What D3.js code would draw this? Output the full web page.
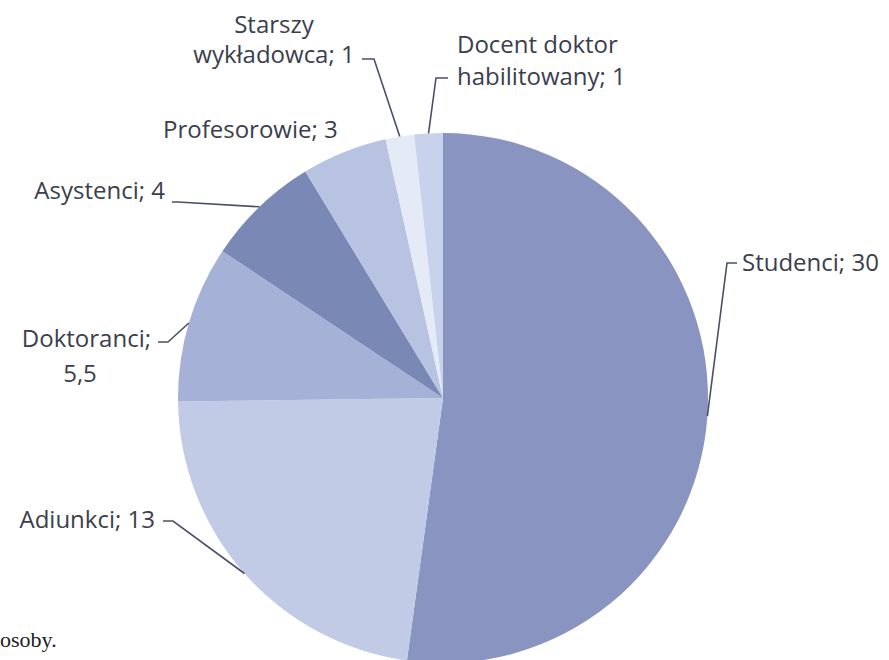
<!DOCTYPE html>
<html>
<head>
<meta charset="utf-8">
<script src="https://cdn.jsdelivr.net/npm/d3@7"></script>
<style>
  html, body { margin: 0; padding: 0; background: #fff; }
  svg { display: block; }
</style>
</head>
<body>
<svg id="chart"></svg>
<script>
// Data
var categories = ["Studenci", "Adiunkci", "Doktoranci", "Asystenci", "Profesorowie", "Starszy wykładowca", "Docent doktor habilitowany"];
var values = [30, 13, 5.5, 4, 3, 1, 1];
var valueLabels = ["30", "13", "5,5", "4", "3", "1", "1"];

// Label layout (lines of text, anchor, leader elbow)
var labelLines = [
    ["Studenci; 30"],
    ["Adiunkci; 13"],
    ["Doktoranci;", "5,5"],
    ["Asystenci; 4"],
    ["Profesorowie; 3"],
    ["Starszy", "wykładowca; 1"],
    ["Docent doktor", "habilitowany; 1"]
];
var labelPos = [
    { x: [742], y: [271], anchor: ["start"], elbow: [727, 263], tick: 737 },
    { x: [155], y: [528], anchor: ["end"], elbow: [173, 521], tick: 163 },
    { x: [151, 80], y: [347, 382], anchor: ["end", "middle"], elbow: [168, 342], tick: 158 },
    { x: [165], y: [199], anchor: ["end"], elbow: [178, 202], tick: 172 },
    { x: [163], y: [138], anchor: ["start"], elbow: null },
    { x: [274, 274], y: [33, 63], anchor: ["middle", "middle"], elbow: [374, 59], tick: 362 },
    { x: [457, 457], y: [53, 85], anchor: ["start", "start"], elbow: [436, 78], tick: 448 }
];

var width = 889, height = 660;
var cx = 443, cy = 398, radius = 265;

var color = d3.scaleOrdinal()
    .domain(categories)
    .range(["#8994c0", "#c2cbe6", "#a5b1d6", "#7a88b6", "#b8c3e1", "#e4eaf6", "#c8d2ec"]);

var svg = d3.select("#chart")
    .attr("width", width)
    .attr("height", height);

svg.append("rect")
    .attr("width", width)
    .attr("height", height)
    .attr("fill", "#fff");

var pie = d3.pie().sort(null).value(function (d) { return d.value; });
var arc = d3.arc().innerRadius(0).outerRadius(radius);

var data = categories.map(function (c, i) {
    return { name: c, value: values[i], label: valueLabels[i], i: i };
});
var arcs = pie(data);

var g = svg.append("g")
    .attr("transform", "translate(" + cx + "," + cy + ")");

g.selectAll("path.slice")
    .data(arcs)
    .enter()
    .append("path")
    .attr("class", "slice")
    .attr("d", arc)
    .attr("fill", function (d) { return color(d.data.name); });

// leader lines
arcs.forEach(function (d, i) {
    var p = labelPos[i];
    if (!p.elbow) return;
    var mid = (d.startAngle + d.endAngle) / 2;
    var ex = cx + radius * Math.sin(mid);
    var ey = cy - radius * Math.cos(mid);
    svg.append("path")
        .attr("d", d3.line()([[ex, ey], p.elbow, [p.tick, p.elbow[1]]]))
        .attr("fill", "none")
        .attr("stroke", "#4b5068")
        .attr("stroke-width", 1.6);
});

// labels
arcs.forEach(function (d, i) {
    var p = labelPos[i];
    labelLines[i].forEach(function (line, j) {
        svg.append("text")
            .attr("x", p.x[j])
            .attr("y", p.y[j])
            .attr("text-anchor", p.anchor[j])
            .style("font-family", "'Open Sans', sans-serif")
            .style("font-size", "24px")
            .attr("fill", "#3b3e4c")
            .text(line);
    });
});

// fragment of page text below the chart
svg.append("text")
    .attr("x", 0)
    .attr("y", 647)
    .style("font-family", "'Liberation Serif', serif")
    .style("font-size", "22px")
    .attr("fill", "#222")
    .text("osoby.");
</script>
</body>
</html>
